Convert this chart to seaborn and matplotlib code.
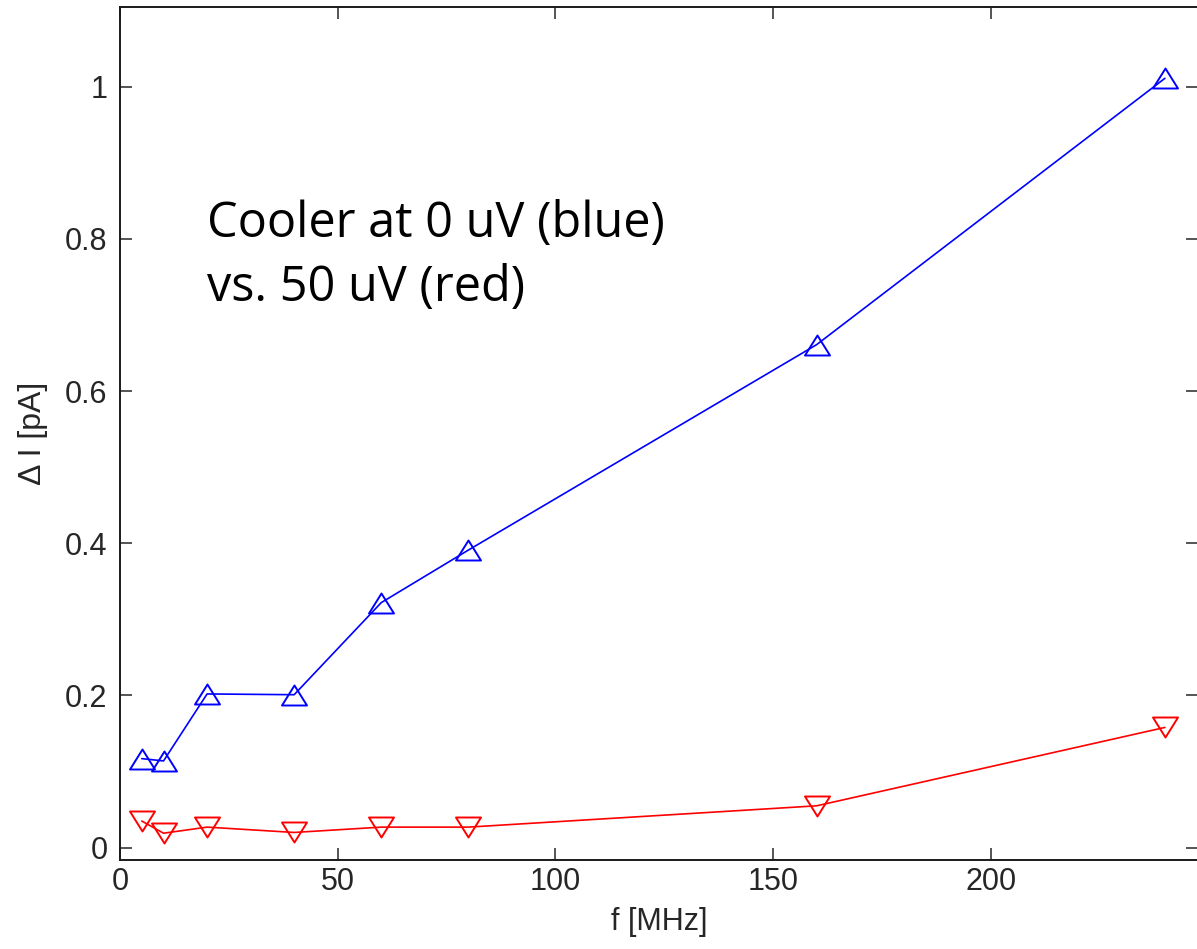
import matplotlib
matplotlib.use("Agg")
import matplotlib.pyplot as plt
import seaborn as sns
import numpy as np
import pandas as pd
from matplotlib.ticker import FuncFormatter
from matplotlib.path import Path

# ---- data ----
freq_mhz = [5, 10, 20, 40, 60, 80, 160, 240]
dI_0uV = [0.117, 0.114, 0.202, 0.201, 0.322, 0.391, 0.661, 1.011]
dI_50uV = [0.035, 0.019, 0.027, 0.020, 0.027, 0.027, 0.055, 0.158]
x_ticks = [0, 50, 100, 150, 200]
y_ticks = [0, 0.2, 0.4, 0.6, 0.8, 1.0]
annotation_lines = ["Cooler at 0 uV (blue)", "vs. 50 uV (red)"]
xlabel = "f [MHz]"
ylabel = "Δ I [pA]"

sns.set_style("white")
plt.rcParams["font.family"] = ["Liberation Sans", "DejaVu Sans"]

W, H = 1197, 949
fig = plt.figure(figsize=(W / 100, H / 100), dpi=100)
ax = fig.add_axes([120 / W, 1 - 860 / H, (1198 - 120) / W, (860 - 7) / H])

codes = [Path.MOVETO, Path.LINETO, Path.LINETO, Path.CLOSEPOLY]
up_tri = Path([(0, 0.8), (-1, -0.8), (1, -0.8), (0, 0.8)], codes)
down_tri = Path([(0, -0.8), (-1, 0.8), (1, 0.8), (0, -0.8)], codes)

df = pd.DataFrame({"f": freq_mhz, "a": dI_0uV, "b": dI_50uV})
sns.lineplot(data=df, x="f", y="a", ax=ax, color="#0000ff", lw=1.2,
             marker=up_tri, markersize=18, markerfacecolor="none",
             markeredgecolor="#0000ff", markeredgewidth=1.4, estimator=None)
sns.lineplot(data=df, x="f", y="b", ax=ax, color="#ff0000", lw=1.2,
             marker=down_tri, markersize=18, markerfacecolor="none",
             markeredgecolor="#ff0000", markeredgewidth=1.4, estimator=None)

ax.set_xlim(0, 247.6)
ax.set_ylim(-0.0162, 1.1047)
ax.set_xticks(x_ticks)
ax.set_yticks(y_ticks)
ax.yaxis.set_major_formatter(FuncFormatter(lambda v, p: f"{v:g}"))
ax.xaxis.set_major_formatter(FuncFormatter(lambda v, p: f"{v:g}"))

tick_col = "#262626"
ax.tick_params(axis="both", which="major", direction="in", length=8.6, width=1.1,
               color=tick_col, labelcolor=tick_col, labelsize=22,
               top=True, right=True, bottom=True, left=True)
ax.tick_params(axis="x", pad=5)
ax.tick_params(axis="y", pad=9)
for s in ax.spines.values():
    s.set_visible(True)
    s.set_color("#1a1a1a")
    s.set_linewidth(1.4)

ax.set_xlabel(xlabel, fontsize=22, color=tick_col)
ax.set_ylabel(ylabel, fontsize=23, color=tick_col)
ax.xaxis.set_label_coords(0.5, -47 / 853)
ax.yaxis.set_label_coords((48 - 120) / 1078, 0.5)
ax.xaxis.label.set_va("top")

for i, line in enumerate(annotation_lines):
    fig.text(207 / W, 1 - (237 + 64 * i) / H, line, fontsize=35,
             family=["Open Sans", "DejaVu Sans"], color="black", va="baseline", ha="left")

fig.savefig("out.png", dpi=100)
